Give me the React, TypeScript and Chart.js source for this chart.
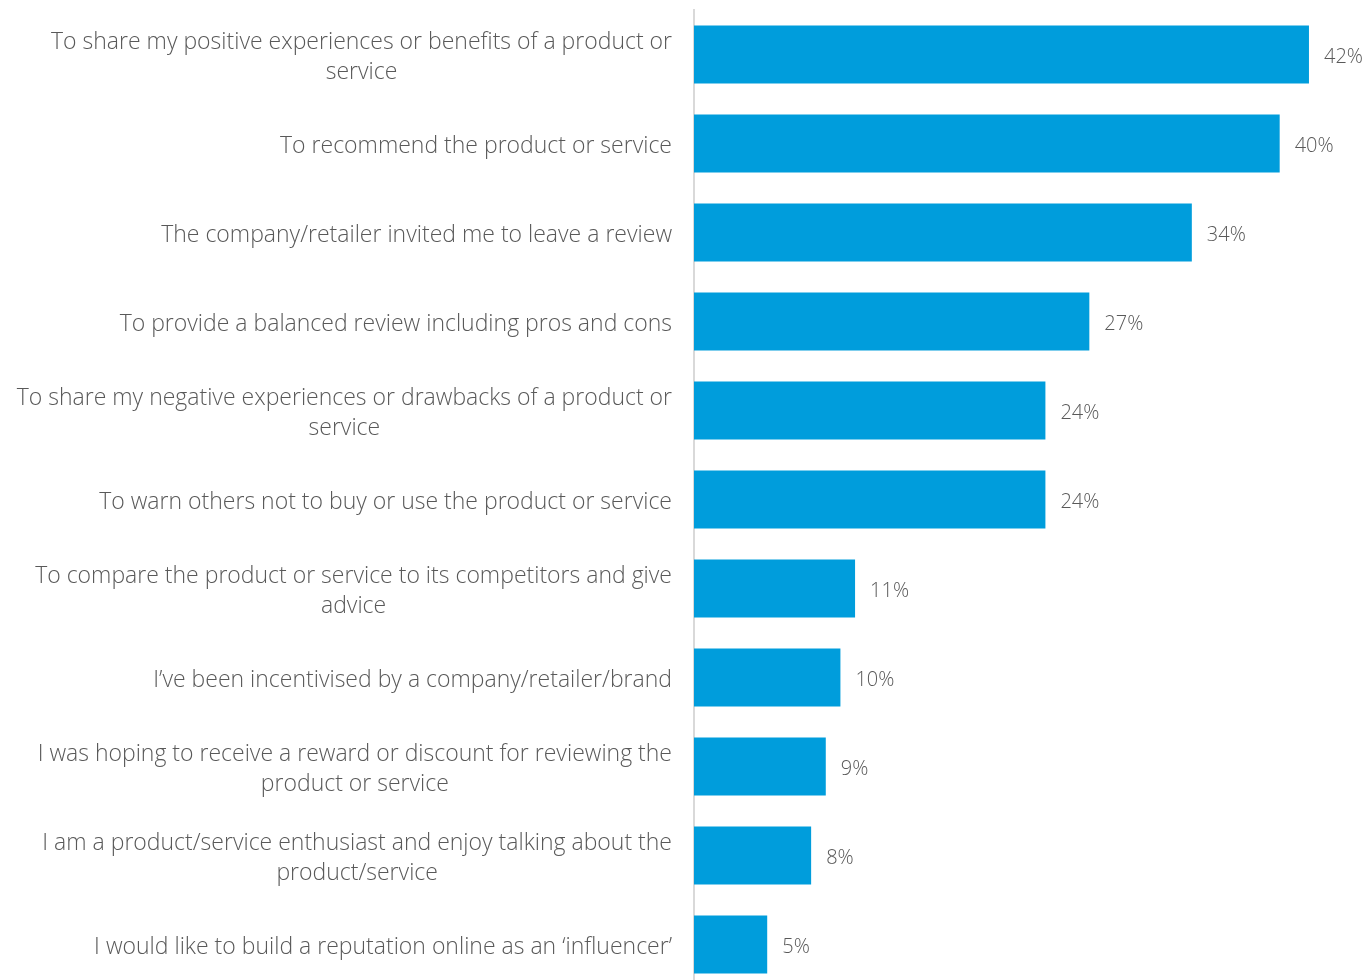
import React, { useEffect, useRef } from "react";
import { Chart, registerables } from "chart.js";

Chart.register(...registerables);

const categories: string[][] = [
  ["To share my positive experiences or benefits of a product or", "service"],
  ["To recommend the product or service"],
  ["The company/retailer invited me to leave a review"],
  ["To provide a balanced review including pros and cons"],
  ["To share my negative experiences or drawbacks of a product or", "service"],
  ["To warn others not to buy or use the product or service"],
  ["To compare the product or service to its competitors and give", "advice"],
  ["I\u2019ve been incentivised by a company/retailer/brand"],
  ["I was hoping to receive a reward or discount for reviewing the", "product or service"],
  ["I am a product/service enthusiast and enjoy talking about the", "product/service"],
  ["I would like to build a reputation online as an \u2018influencer\u2019"],
];

const values: number[] = [42, 40, 34, 27, 24, 24, 11, 10, 9, 8, 5];

const FONT = "'Open Sans', 'DejaVu Sans', sans-serif";
const TEXT = "#595959";

const valueLabels = {
  id: "valueLabels",
  afterDatasetsDraw(chart: any) {
    const ctx = chart.ctx;
    const meta = chart.getDatasetMeta(0);
    ctx.save();
    ctx.font = `300 20px ${FONT}`;
    ctx.fillStyle = TEXT;
    ctx.textAlign = "left";
    ctx.textBaseline = "middle";
    meta.data.forEach((bar: any, i: number) => {
      ctx.fillText(`${values[i]}%`, bar.x + 15, bar.y + 2.5);
    });
    ctx.restore();
  },
};

const categoryLabels = {
  id: "categoryLabels",
  afterDraw(chart: any) {
    const ctx = chart.ctx;
    const yScale = chart.scales.y;
    const right = chart.chartArea.left - 22;
    const lh = 30;
    ctx.save();
    ctx.font = `300 23px ${FONT}`;
    ctx.fillStyle = TEXT;
    ctx.textAlign = "center";
    ctx.textBaseline = "middle";
    categories.forEach((lines, i) => {
      const y = yScale.getPixelForTick(i);
      const maxW = Math.max(...lines.map((l) => ctx.measureText(l).width));
      const cx = right - maxW / 2;
      lines.forEach((line, k) => {
        ctx.fillText(line, cx, y - ((lines.length - 1) * lh) / 2 + k * lh + 2.5);
      });
    });
    ctx.restore();
  },
};

export default function App() {
  const ref = useRef<HTMLCanvasElement | null>(null);
  useEffect(() => {
    document.body.style.margin = "0";
    const chart = new Chart(ref.current as HTMLCanvasElement, {
      type: "bar",
      data: {
        labels: categories.map((c) => c.join(" ")),
        datasets: [
          {
            data: values,
            backgroundColor: "#009DDC",
            borderWidth: 0,
            barPercentage: 0.652,
            categoryPercentage: 1,
          },
        ],
      },
      options: {
        indexAxis: "y",
        animation: false,
        responsive: false,
        maintainAspectRatio: false,
        layout: { padding: { top: 10, bottom: 1, right: 0, left: 0 } },
        plugins: { legend: { display: false }, tooltip: { enabled: false } },
        scales: {
          x: { display: false, min: 0, max: 46.1 },
          y: {
            afterFit(scale: any) {
              scale.width = 694;
              scale.paddingTop = 0;
              scale.paddingBottom = 0;
            },
            grid: { display: false, drawTicks: false },
            border: { display: true, color: "#d9d9d9", width: 2 },
            ticks: { display: false },
          },
        },
      },
      plugins: [valueLabels, categoryLabels],
    });
    return () => chart.destroy();
  }, []);
  return (
    <div style={{ position: "absolute", left: 0, top: 0, width: 1369, height: 980, overflow: "hidden", background: "#fff" }}>
      <canvas ref={ref} width={1369} height={990} style={{ display: "block" }} />
    </div>
  );
}
